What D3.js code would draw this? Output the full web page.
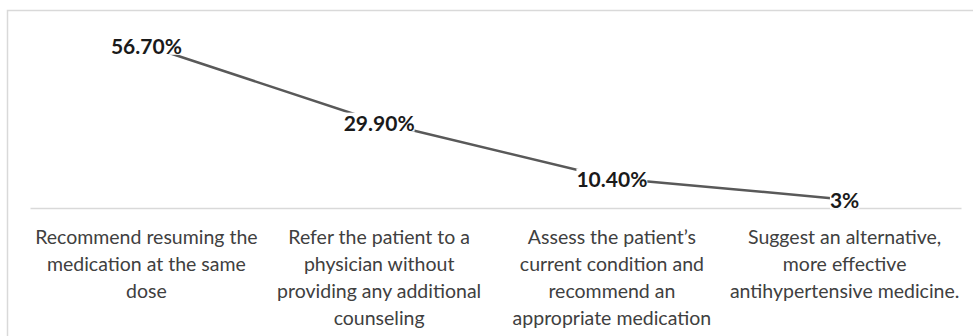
<!DOCTYPE html>
<html>
<head>
<meta charset="utf-8">
<script src="https://cdn.jsdelivr.net/npm/d3@7"></script>
<style>
  body { margin: 0; background: #fff; }
  svg { display: block; }
</style>
</head>
<body>
<div id="chart"></div>
<script>
// data
var categories = ["c1", "c2", "c3", "c4"];
var values = [56.7, 29.9, 10.4, 3];
var valueLabels = ["56.70%", "29.90%", "10.40%", "3%"];
var tickLines = [
    ["Recommend resuming the", "medication at the same", "dose"],
    ["Refer the patient to a", "physician without", "providing any additional", "counseling"],
    ["Assess the patient\u2019s", "current condition and", "recommend an", "appropriate medication"],
    ["Suggest an alternative,", "more effective", "antihypertensive medicine."]
];

var svgWidth = 973;
var svgHeight = 336;

var svg = d3.select("#chart")
    .append("svg")
    .attr("width", svgWidth)
    .attr("height", svgHeight);

// chart frame (right / bottom edges fall outside the picture)
svg.append("rect")
    .attr("x", 7.5)
    .attr("y", 10.5)
    .attr("width", 1000)
    .attr("height", 400)
    .attr("fill", "none")
    .attr("stroke", "#d9d9d9")
    .attr("stroke-width", 1.5);

var plot = { left: 30, right: 961, top: 36, bottom: 208 };

var x = d3.scaleBand()
    .domain(categories)
    .range([plot.left, plot.right]);

var y = d3.scaleLinear()
    .domain([0, 60])
    .range([plot.bottom, plot.top]);

var cx = d => x(d) + x.bandwidth() / 2;

// x axis
var xAxis = svg.append("g")
    .attr("transform", `translate(0, ${plot.bottom})`)
    .call(d3.axisBottom(x).tickSize(0).tickFormat(""));

xAxis.select(".domain")
    .attr("stroke", "#d9d9d9")
    .attr("stroke-width", 1.5);

xAxis.selectAll(".tick text").remove();

xAxis.selectAll(".tick")
    .append("text")
    .attr("text-anchor", "middle")
    .attr("fill", "#404040")
    .style("font-family", "Lato, 'Open Sans', sans-serif")
    .style("font-size", "19.5px")
    .each(function(d, i) {
        var t = d3.select(this);
        tickLines[i].forEach(function(line, j) {
            t.append("tspan")
                .attr("x", 0)
                .attr("y", 36 + j * 27)
                .text(line);
        });
    });

// the line
var line = d3.line()
    .x((d, i) => cx(categories[i]))
    .y(d => y(d));

svg.append("path")
    .datum(values)
    .attr("d", line)
    .attr("fill", "none")
    .attr("stroke", "#595959")
    .attr("stroke-width", 2.5);

// data labels with white backing
var labels = svg.selectAll("g.dlabel")
    .data(values)
    .enter()
    .append("g")
    .attr("class", "dlabel")
    .attr("transform", (d, i) => `translate(${cx(categories[i])}, ${y(d) + 1})`);

var labelText = labels.append("text")
    .attr("text-anchor", "middle")
    .attr("dy", "0.35em")
    .attr("fill", "#1a1a1a")
    .style("font-family", "Lato, 'Open Sans', sans-serif")
    .style("font-weight", "bold")
    .style("font-size", "21px")
    .text((d, i) => valueLabels[i]);

labelText.each(function() {
    var bb = this.getBBox();
    d3.select(this.parentNode).insert("rect", "text")
        .attr("x", bb.x)
        .attr("y", bb.y + 3)
        .attr("width", bb.width)
        .attr("height", bb.height - 6)
        .attr("fill", "#fff");
});
</script>
</body>
</html>
